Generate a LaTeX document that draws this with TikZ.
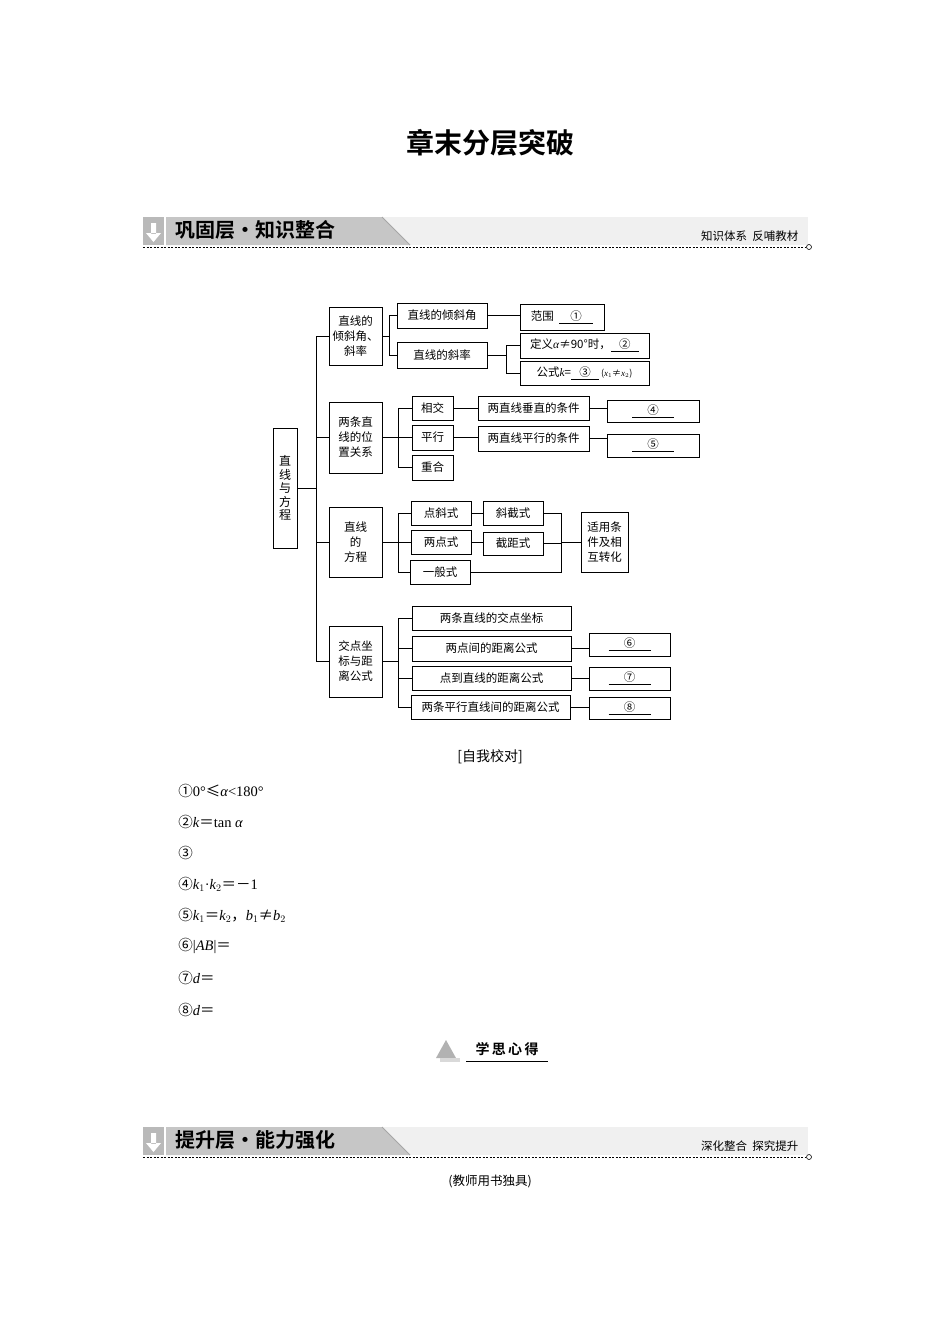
\documentclass[tikz,border=0pt]{standalone}
\usepackage{fontspec}
\setmainfont{Liberation Serif}
\newfontfamily\cjk{Noto Sans CJK SC}
\newfontfamily\cjkb{Noto Sans CJK SC Bold}
\newcommand\mi[1]{{\rmfamily\itshape #1}}
\begin{document}
\begin{tikzpicture}[x=1pt,y=-1pt,line width=0.8pt,
  bx/.style={draw,inner sep=0pt,font=\cjk\fontsize{11.5}{15}\selectfont,align=center},
  ln/.style={line width=0.8pt}]
\useasboundingbox (0,0) rectangle (950,1344);
\newcommand\bx[6]{\node[bx,minimum width=#4-#2,minimum height=#5-#3] (#1) at ({(#2+#4)/2},{(#3+#5)/2}) {#6};}
\newcommand\blank[1]{\underline{\makebox[42pt]{#1}}}
% title
\node[font=\cjkb\fontsize{28}{30}\selectfont] (title) at (490,143) {章末分层突破};
% headers
\foreach \yy/\tl/\tr/\nm in {217/巩固层·知识整合/知识体系\ \ 反哺教材/h1,1127/提升层·能力强化/深化整合\ \ 探究提升/h2}{
  \fill[gray!12] (380,\yy) rectangle (808,\yy+28);
  \fill[gray!55] (143,\yy) rectangle (164,\yy+28);
  \fill[white] (151,\yy+6) rectangle (156,\yy+17) (146,\yy+16) -- (161,\yy+16) -- (153.5,\yy+25) -- cycle;
  \fill[gray!45] (166,\yy) -- (382,\yy) -- (410,\yy+28) -- (166,\yy+28) -- cycle;
  \draw[gray!70,line width=1pt] (382,\yy) -- (410,\yy+28);
  \node[font=\cjkb\fontsize{20}{22}\selectfont,anchor=west] (\nm l) at (172,\yy+13) {\tl};
  \node[font=\cjk\fontsize{11.5}{13}\selectfont,anchor=east] (\nm r) at (802,\yy+19) {\tr};
  \draw[dashed,line width=0.9pt,dash pattern=on 2pt off 1.5pt] (143,\yy+30) -- (806,\yy+30);
  \draw[line width=0.6pt] (809,\yy+30) circle (2.5);
}
% diagram
\node[draw,inner sep=0pt,minimum width=24pt,minimum height=120pt,font=\cjk\fontsize{12}{13.5}\selectfont,align=center] (root) at (285,488) {直\\线\\与\\方\\程};
\bx{A}{329}{307}{382}{365}{直线的\\倾斜角、\\斜率}
\bx{B}{329}{402}{382}{473}{两条直\\线的位\\置关系}
\bx{C}{329}{507}{382}{577}{直线\\的\\方程}
\bx{D}{329}{626}{382}{697}{交点坐\\标与距\\离公式}
\bx{A1}{397}{303}{487}{328}{直线的倾斜角}
\bx{A2}{397}{342}{487}{368}{直线的斜率}
\bx{A11}{520}{304}{604}{330}{范围\ \ \underline{\makebox[34pt]{①}}}
\bx{A21}{520}{333}{649}{358}{定义\mi{α}≠90°时，\underline{\makebox[28pt]{②}}}
\bx{A22}{520}{361}{649}{385}{公式\mi{k}=\underline{\makebox[28pt]{③}}\,{\fontsize{9}{10}\selectfont(\mi{x}$_1$≠\mi{x}$_2$)}}
\bx{B1}{412}{396}{453}{420}{相交}
\bx{B2}{412}{425}{453}{450}{平行}
\bx{B3}{412}{455}{453}{480}{重合}
\bx{B11}{478}{396}{589}{420}{两直线垂直的条件}
\bx{B21}{478}{426}{589}{451}{两直线平行的条件}
\bx{B12}{607}{400}{699}{422}{\blank{④}}
\bx{B22}{607}{434}{699}{457}{\blank{⑤}}
\bx{C1}{411}{501}{471}{525}{点斜式}
\bx{C2}{411}{530}{471}{554}{两点式}
\bx{C3}{410}{560}{470}{584}{一般式}
\bx{C11}{483}{501}{543}{525}{斜截式}
\bx{C21}{483}{532}{543}{555}{截距式}
\bx{CE}{581}{512}{628}{572}{适用条\\件及相\\互转化}
\bx{D1}{412}{606}{571}{630}{两条直线的交点坐标}
\bx{D2}{412}{636}{571}{661}{两点间的距离公式}
\bx{D3}{412}{666}{571}{690}{点到直线的距离公式}
\bx{D4}{411}{695}{570}{719}{两条平行直线间的距离公式}
\bx{D21}{589}{633}{670}{656}{\blank{⑥}}
\bx{D31}{589}{667}{670}{690}{\blank{⑦}}
\bx{D41}{589}{697}{670}{719}{\blank{⑧}}
% trunk
\coordinate (t) at (316,0);
\draw (A.west -| t) -- (D.west -| t);
\draw (root.east) -- (root.east -| t);
\foreach \n in {A,B,C,D}{\draw (\n.west) -- (\n.west -| t);}
% A branch
\coordinate (sa) at (389,0);
\draw (A.east) -- (A.east -| sa);
\draw (A1.west -| sa) -- (A2.west -| sa);
\draw (A1.west) -- (A1.west -| sa) (A2.west) -- (A2.west -| sa);
\draw (A1.east) -- (A1.east -| A11.west);
\coordinate (sa2) at (506,0);
\draw (A2.east) -- (A2.east -| sa2);
\draw (A21.west -| sa2) -- (A22.west -| sa2);
\draw (A21.west) -- (A21.west -| sa2) (A22.west) -- (A22.west -| sa2);
% B branch
\coordinate (sb) at (398,0);
\draw (B.east) -- (B.east -| sb);
\draw (B1.west -| sb) -- (B3.west -| sb);
\foreach \n in {B1,B2,B3}{\draw (\n.west) -- (\n.west -| sb);}
\draw (B1.east) -- (B1.east -| B11.west) (B2.east) -- (B2.east -| B21.west);
\draw (B11.east) -- (B11.east -| B12.west);
\draw (B21.east) -- (B21.east -| B22.west);
% C branch
\draw (C.east) -- (C.east -| sb);
\draw (C1.west -| sb) -- (C3.west -| sb);
\foreach \n in {C1,C2,C3}{\draw (\n.west) -- (\n.west -| sb);}
\draw (C1.east) -- (C11.west) (C2.east) -- (C2.east -| C21.west);
\coordinate (sc) at (561,0);
\draw (C11.east) -- (C11.east -| sc) -- (C3.east -| sc) -- (C3.east);
\draw (C21.east) -- (C21.east -| sc);
\draw (CE.west -| sc) -- (CE.west);
% D branch
\draw (D.east) -- (D.east -| sb);
\draw (D1.west -| sb) -- (D4.west -| sb);
\foreach \n in {D1,D2,D3,D4}{\draw (\n.west) -- (\n.west -| sb);}
\draw (D2.east) -- (D2.east -| D21.west);
\draw (D3.east) -- (D3.east -| D31.west);
\draw (D4.east) -- (D4.east -| D41.west);
% answers
\node[font=\cjk\fontsize{14}{16}\selectfont] (chk) at (490,757) {[自我校对]};
\begin{scope}[every node/.style={anchor=west,font=\fontsize{14.5}{16}\selectfont,inner sep=0pt}]
\node (a1) at (178,791) {{\cjk ①}0°{\cjk ≤}\mi{α}<180°};
\node (a2) at (178,822) {{\cjk ②}\mi{k}{\cjk ＝}tan \mi{α}};
\node (a3) at (178,853) {{\cjk ③}};
\node (a4) at (178,884) {{\cjk ④}\mi{k}$_1$·\mi{k}$_2${\cjk ＝－}1};
\node (a5) at (178,915) {{\cjk ⑤}\mi{k}$_1${\cjk ＝}\mi{k}$_2${\cjk ，}\mi{b}$_1${\cjk ≠}\mi{b}$_2$};
\node (a6) at (178,946) {{\cjk ⑥}|\mi{AB}|{\cjk ＝}};
\node (a7) at (178,978) {{\cjk ⑦}\mi{d}{\cjk ＝}};
\node (a8) at (178,1010) {{\cjk ⑧}\mi{d}{\cjk ＝}};
\end{scope}
% icon
\fill[gray!60] (436,1058) -- (446,1040) -- (456,1058) -- cycle;
\fill[gray!30] (440,1058) rectangle (460,1062);
\draw[line width=1pt] (466,1061) -- (548,1061);
\node[font=\cjkb\fontsize{14}{16}\selectfont] (xs) at (507,1049) {学\,思\,心\,得};
\node[font=\cjk\fontsize{12.5}{14}\selectfont] (js) at (490,1181) {(教师用书独具)};
\end{tikzpicture}
\end{document}
